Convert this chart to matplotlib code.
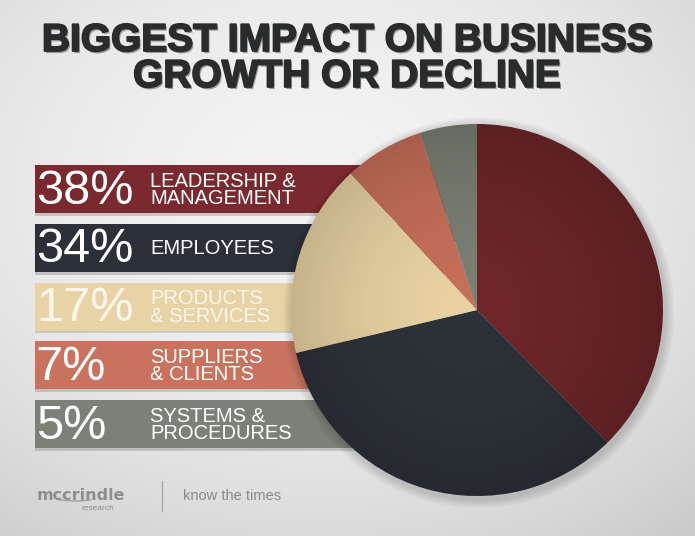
import numpy as np
import matplotlib
matplotlib.use("Agg")
import matplotlib.pyplot as plt
import matplotlib.patheffects as pe
from matplotlib.patches import Circle, Arc

# data
categories = ["LEADERSHIP &\nMANAGEMENT", "EMPLOYEES", "PRODUCTS\n& SERVICES",
              "SUPPLIERS\n& CLIENTS", "SYSTEMS &\nPROCEDURES"]
shares = [38, 34, 17, 7, 5]
pct_labels = ["38%", "34%", "17%", "7%", "5%"]
bar_colors = ["#7a2a2e", "#2c3139", "#e8d3a6", "#c9735e", "#7c8178"]
pie_colors = ["#6e2629", "#2d3239", "#e8d2a2", "#c66f59", "#7a8074"]
label_colors = ["white", "white", "#fbf6ea", "white", "white"]

W, H = 695, 536
fig = plt.figure(figsize=(W / 100, H / 100), dpi=100)

# background in pixel coords
bg = fig.add_axes([0, 0, 1, 1])
bg.set_xlim(0, W)
bg.set_ylim(H, 0)
bg.axis("off")
yy, xx = np.mgrid[0:H, 0:W]
r = np.sqrt(((xx - W * 0.45) / W) ** 2 + ((yy - H * 0.35) / H) ** 2)
shade = 0.95 - 0.22 * r ** 2
bg.imshow(np.dstack([shade] * 3), extent=[0, W, H, 0], zorder=0, aspect="auto")

# title
title_fx = [pe.withSimplePatchShadow(offset=(1.2, -1.5), shadow_rgbFace="black", alpha=0.35),
            pe.Stroke(linewidth=1.3, foreground="#2a2b2d"), pe.Normal()]
for txt, y in [("BIGGEST IMPACT ON BUSINESS", 41), ("GROWTH OR DECLINE", 77)]:
    bg.text(347, y, txt, ha="center", va="center", fontsize=28, fontweight="bold",
            family="Liberation Sans", color="#2a2b2d", path_effects=title_fx)

# legend bars
bar_y = [189 + i * 58.8 for i in range(len(shares))]
bg.barh(bar_y, 420, left=35, height=48, color=bar_colors, zorder=2,
        path_effects=[pe.withSimplePatchShadow(offset=(0, -2), alpha=0.18)])
for y, p, lab, c in zip(bar_y, pct_labels, categories, label_colors):
    bg.text(36, y + 2, p, ha="left", va="center", fontsize=35, color=c,
            family="Liberation Sans", zorder=3)
    bg.text(150, y + 1, lab, ha="left", va="center", fontsize=14.5, color=c,
            family="Liberation Sans", linespacing=0.88, zorder=3)

# footer
bg.add_patch(Arc((75, 492), 64, 18, theta1=25, theta2=155, color="#9a9a9a", lw=0.8))
bg.text(37, 495, "mccrindle", ha="left", va="center", fontsize=11.5, fontweight="bold",
        color="#8e8e8e", family="DejaVu Sans")
bg.text(114, 508, "research", ha="right", va="center", fontsize=6, color="#8e8e8e",
        family="Liberation Sans")
bg.plot([162, 162], [481, 511], color="#a8a8a8", lw=1)
bg.text(183, 496, "know the times", ha="left", va="center", fontsize=10.5,
        color="#8a8a8a", family="Liberation Sans")

# pie
cx, cy, rad = 477, 310, 186
m = 1.06
pax = fig.add_axes([(cx - rad * m) / W, 1 - (cy + rad * m) / H, 2 * rad * m / W, 2 * rad * m / H])
pax.axis("off")
for k in range(5):
    pax.add_patch(Circle((0.01, -0.015), 1.0 + 0.01 * (k + 1), color="black",
                         alpha=0.03, lw=0, zorder=0))
wedges, _ = pax.pie(shares, colors=pie_colors, startangle=90, counterclock=False,
                    radius=1.0, wedgeprops=dict(linewidth=0))
for w in wedges:
    w.set_zorder(1)
# radial shading over the pie
gy, gx = np.mgrid[-1:1:300j, -1:1:300j]
gr = np.sqrt((gx + 0.05) ** 2 + gy ** 2)
overlay = np.zeros((300, 300, 4))
overlay[..., 3] = np.clip(0.16 * gr ** 1.8, 0, 0.17)
img = pax.imshow(overlay, extent=[-1, 1, -1, 1], zorder=2)
img.set_clip_path(Circle((0, 0), 1.0, transform=pax.transData))
pax.set_xlim(-m, m)
pax.set_ylim(-m, m)
pax.set_aspect("equal")

fig.savefig("out.png", dpi=100)
